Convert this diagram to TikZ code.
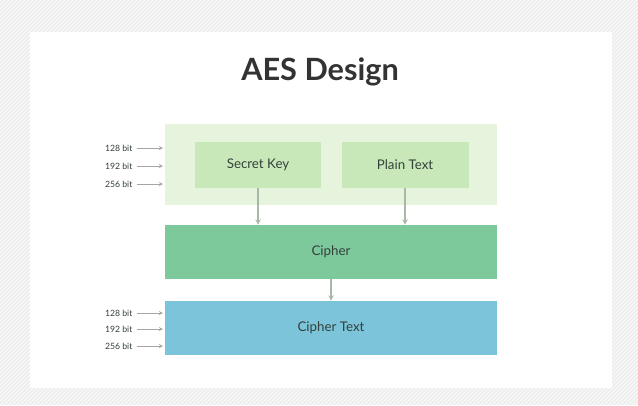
\documentclass[tikz,border=0pt]{standalone}
\usepackage{fontspec}
\setmainfont{Lato}
\usetikzlibrary{arrows}
\usetikzlibrary{positioning}
\usetikzlibrary{patterns}

\definecolor{bggray}{HTML}{EEEEEE}
\definecolor{outergreen}{HTML}{E6F4DE}
\definecolor{keygreen}{HTML}{C9E8B9}
\definecolor{ciphergreen}{HTML}{7DC99C}
\definecolor{cipherblue}{HTML}{7BC4DA}
\definecolor{textdark}{HTML}{34413A}
\definecolor{arrowgray}{HTML}{A8B8A8}

\begin{document}
\begin{tikzpicture}
	[x=0.75pt,y=-0.75pt,
	box/.style={inner sep=0pt,anchor=north west,text=textdark,font=\fontsize{10}{12}\selectfont},
	bitlabel/.style={anchor=east,inner sep=1pt,text=textdark,font=\fontsize{6.5}{8}\selectfont},
	bitarrow/.style={draw=gray!70,line width=0.4pt,-stealth,shorten <=2.5pt},
	flow/.style={draw=arrowgray,line width=0.8pt,-stealth}]
	% background
	\useasboundingbox (0,0) rectangle (638,405);
	\fill[bggray] (0,0) rectangle (638,405);
	\fill[pattern=north east lines,pattern color=white] (0,0) rectangle (638,405);
	\fill[white] (30,32) rectangle (612,388);
	\node[font=\fontsize{23}{27}\selectfont\bfseries,text=black!80] (title) at (320,72) {AES Design};

	% boxes
	\node[box,fill=outergreen,minimum width=332*0.75pt,minimum height=81*0.75pt] (inputs) at (165,124) {};
	\node[box,fill=keygreen,minimum width=126*0.75pt,minimum height=46*0.75pt,anchor=center] (key) at (258,165) {Secret Key};
	\node[box,fill=keygreen,minimum width=127*0.75pt,minimum height=46*0.75pt,anchor=center] (plain) at (405,165) {Plain Text};
	\node[box,fill=ciphergreen,minimum width=332*0.75pt,minimum height=54*0.75pt,anchor=center] (cipher) at (331,252) {Cipher};
	\node[box,fill=cipherblue,minimum width=332*0.75pt,minimum height=54*0.75pt,anchor=center] (ctext) at (331,328) {Cipher Text};

	\draw[flow] (key.south) -- (key.south |- cipher.north);
	\draw[flow] (plain.south) -- (plain.south |- cipher.north);
	\draw[flow] (cipher.south) -- (ctext.north);

	% key lengths
	\foreach \name/\y/\bits in {ka/148/128, kb/166/192, kc/184/256, ca/313/128, cb/329/192, cc/346/256}
	{
		\node[bitlabel] (\name) at (134,\y) {\bits\ bit};
		\coordinate (\name end) at (163,\y);
		\draw[bitarrow] (\name) -- (\name end);
	}
\end{tikzpicture}
\end{document}
